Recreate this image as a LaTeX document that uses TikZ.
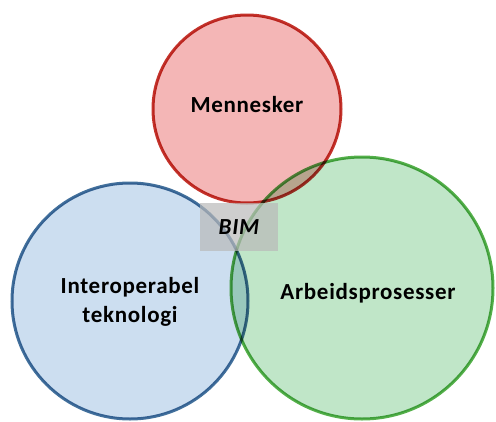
\documentclass[tikz,border=0pt]{standalone}
\usepackage{fontspec}
\setmainfont{Carlito}[LetterSpace=3]
\begin{document}
\begin{tikzpicture}[x=1pt,y=-1pt,
  ring/.style={line width=3pt, blend mode=multiply},
  label/.style={font=\bfseries\fontsize{23}{29}\selectfont, align=center, inner sep=0pt}]
\definecolor{redfill}{RGB}{244,182,182}
\definecolor{redline}{RGB}{196,52,44}
\definecolor{bluefill}{RGB}{204,222,240}
\definecolor{blueline}{RGB}{66,112,156}
\definecolor{greenfill}{RGB}{192,230,200}
\definecolor{greenline}{RGB}{84,176,74}
\useasboundingbox (0,0) rectangle (496,421);
% three sets
\path[ring, fill=redfill, draw=redline] (247,109) circle[radius=94];
\path[ring, fill=bluefill, draw=blueline] (130,301) circle[radius=118];
\path[ring, fill=greenfill, draw=greenline] (362,288) circle[radius=131];
% centre tag
\node[fill=gray!55, opacity=0.7, minimum width=78pt, minimum height=48pt, inner sep=0pt] (tag) at (239,227) {};
\node[font=\bfseries\itshape\fontsize{23}{29}\selectfont, inner sep=0pt] (bim) at (tag.center) {BIM};
% set labels
\node[label] (people) at (247,105) {Mennesker};
\node[label] (tech) at (130,302) {Interoperabel\\teknologi};
\node[label] (work) at (368,293) {Arbeidsprosesser};
\end{tikzpicture}
\end{document}
